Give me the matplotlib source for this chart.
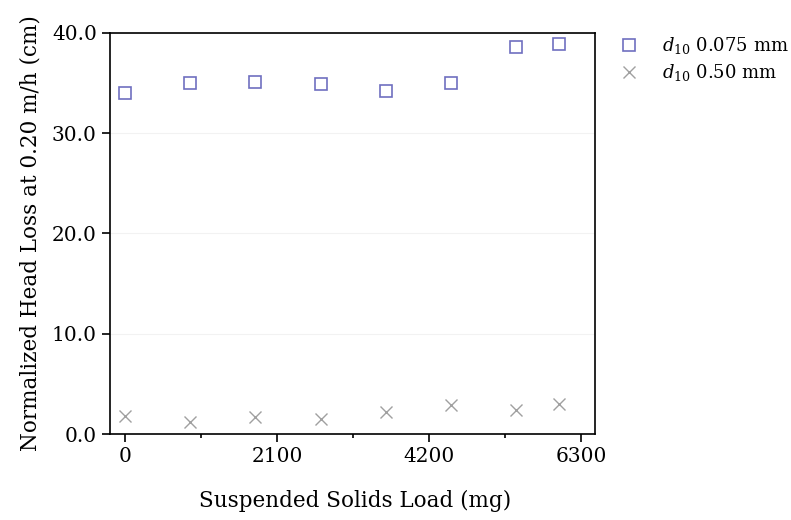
import matplotlib.pyplot as plt
from matplotlib.ticker import MultipleLocator

plt.rcParams['font.family'] = 'DejaVu Serif'
plt.rcParams['mathtext.fontset'] = 'dejavuserif'

# Suspended solids load (mg)
load_mg = [0, 900, 1800, 2700, 3600, 4500, 5400, 6000]
# Normalized head loss (cm)
fine_sand = [34.0, 35.0, 35.1, 34.9, 34.2, 35.0, 38.6, 38.9]   # d10 0.075 mm
coarse_sand = [1.8, 1.2, 1.7, 1.5, 2.2, 2.9, 2.4, 3.0]        # d10 0.50 mm

xticks = [0, 2100, 4200, 6300]
yticks = [0, 10, 20, 30, 40]

fig = plt.figure(figsize=(7.91, 5.2), dpi=100)
ax = fig.add_axes([0.139, 0.165, 0.613, 0.772])

ax.plot(load_mg, fine_sand, linestyle='none', marker='s', markersize=8,
        markerfacecolor='none', markeredgecolor='#6f6fc0', markeredgewidth=1.2,
        label=r'$d_{\mathit{10}}$ 0.075 mm')
ax.plot(load_mg, coarse_sand, linestyle='none', marker='x', markersize=9,
        color='#a0a0a0', markeredgewidth=1.0,
        label=r'$d_{\mathit{10}}$ 0.50 mm')

ax.set_xlim(-210, 6490)
ax.set_ylim(0, 40)
ax.set_xticks(xticks)
ax.set_yticks(yticks)
ax.set_yticklabels([f'{v:.1f}' for v in yticks])
ax.xaxis.set_minor_locator(MultipleLocator(1050))
ax.grid(axis='y', color='#f2f2f2', linewidth=0.8)
ax.set_axisbelow(True)

ax.tick_params(axis='both', which='major', direction='out', length=6, width=1.2, labelsize=14.5)
ax.tick_params(axis='x', which='minor', direction='out', length=3, width=1.2)
for s in ax.spines.values():
    s.set_linewidth(1.2)

ax.set_xlabel('Suspended Solids Load (mg)', fontsize=15.5)
ax.set_ylabel('Normalized Head Loss at 0.20 m/h (cm)', fontsize=15.5)
ax.xaxis.set_label_coords(0.505, -0.14)
ax.yaxis.set_label_coords(-0.142, 0.5)

ax.legend(loc='upper left', bbox_to_anchor=(1.0, 1.035), frameon=False,
          fontsize=13, handletextpad=0.8, labelspacing=0.35)

fig.savefig('out.png', dpi=100)
